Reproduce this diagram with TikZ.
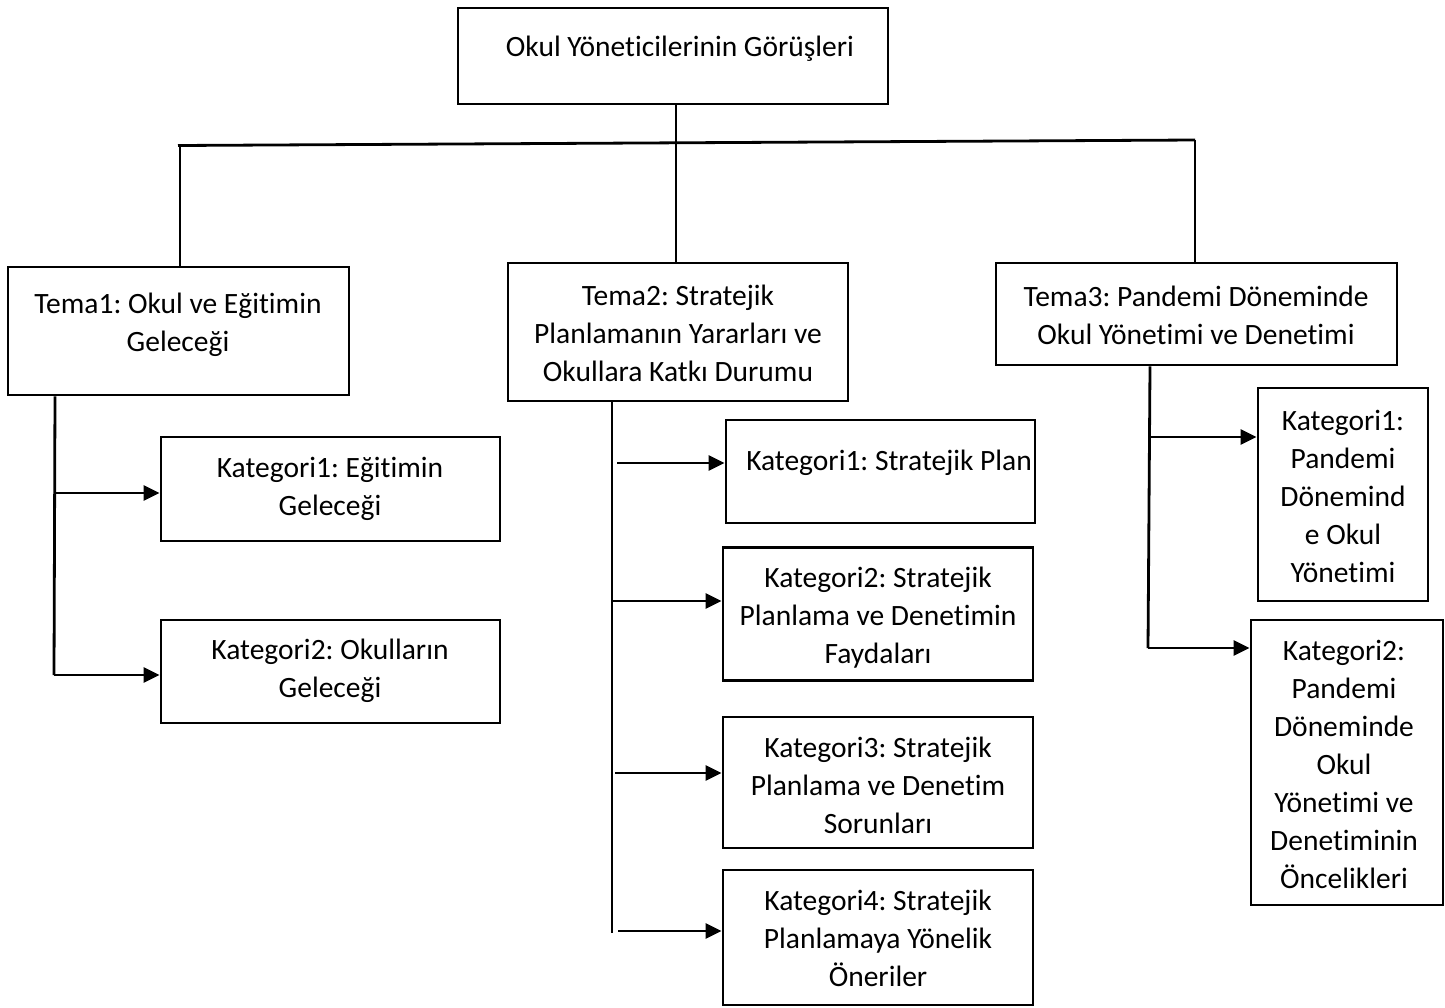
\documentclass[tikz,border=0pt]{standalone}
\usepackage{fontspec}
\setmainfont{Carlito}[Ligatures=NoCommon]
\usetikzlibrary{arrows.meta}
\newcommand\tfont{\fontsize{29.5}{38}\selectfont\frenchspacing}
\tikzset{
  box/.style={draw, line width=2.8pt, rectangle, inner sep=0pt},
  txt/.style={anchor=north, yshift=26.6pt, inner sep=0pt, align=center, font=\tfont},
  ln/.style={line width=2.8pt},
  arr/.style={line width=2.8pt, -{Triangle[length=16pt,width=15pt]}}
}
\begin{document}
\begin{tikzpicture}[x=1pt,y=-1pt]
\useasboundingbox (0,0) rectangle (1445,1007);
% boxes
\node[box, minimum width=430pt, minimum height=96pt] (top) at (673,56) {};
\node[box, minimum width=341pt, minimum height=128pt] (T1) at (178.5,331) {};
\node[box, minimum width=340pt, minimum height=138pt] (T2) at (678,332) {};
\node[box, minimum width=401pt, minimum height=102pt] (T3) at (1196.5,314) {};
\node[box, minimum width=339pt, minimum height=104pt] (A1) at (330.5,489) {};
\node[box, minimum width=339pt, minimum height=103pt] (A2) at (330.5,671.5) {};
\node[box, minimum width=309pt, minimum height=103pt] (B1) at (880.5,471.5) {};
\node[box, minimum width=310pt, minimum height=133pt] (B2) at (878,614) {};
\node[box, minimum width=310pt, minimum height=131pt] (B3) at (878,782.5) {};
\node[box, minimum width=310pt, minimum height=135pt] (B4) at (878,937.5) {};
\node[box, minimum width=170pt, minimum height=213pt] (C1) at (1343,494.5) {};
\node[box, minimum width=192pt, minimum height=285pt] (C2) at (1347,762.5) {};
% texts
\node[txt] (ttop) at (680,56) {\strut Okul Yöneticilerinin Görüşleri};
\node[txt] (tT1) at (178,313) {\strut Tema1: Okul ve Eğitimin\\Geleceği};
\node[txt] (tT2) at (678,305) {\strut Tema2: Stratejik\\Planlamanın Yararları ve\\Okullara Katkı Durumu};
\node[txt] (tT3) at (1196,306) {\strut Tema3: Pandemi Döneminde\\Okul Yönetimi ve Denetimi};
\node[txt] (tA1) at (330,477) {\strut Kategori1: Eğitimin\\Geleceği};
\node[txt] (tA2) at (330,659) {\strut Kategori2: Okulların\\Geleceği};
\node[txt] (tB1) at (889,470) {\strut Kategori1: Stratejik Plan};
\node[txt] (tB2) at (878,587) {\strut Kategori2: Stratejik\\Planlama ve Denetimin\\Faydaları};
\node[txt] (tB3) at (878,757) {\strut Kategori3: Stratejik\\Planlama ve Denetim\\Sorunları};
\node[txt] (tB4) at (878,910) {\strut Kategori4: Stratejik\\Planlamaya Yönelik\\Öneriler};
\node[txt] (tC1) at (1343,430) {\strut Kategori1:\\Pandemi\\Dönemind\\e Okul\\Yönetimi};
\node[txt] (tC2) at (1344,660) {\strut Kategori2:\\Pandemi\\Döneminde\\Okul\\Yönetimi ve\\Denetiminin\\Öncelikleri};
% junctions
\coordinate (jl) at (178,145.5);
\coordinate (jr) at (1195,140);
\coordinate (jm) at (676,143);
\draw[ln] (jl) -- (jr);
\draw[ln] (top.south -| jm) -- (T2.north -| jm);
\draw[ln] ([xshift=2pt]jl) -- ([xshift=2pt]jl |- T1.north);
\draw[ln] (jr) -- (jr |- T3.north);
% Tema1 branch
\coordinate (k1) at (54,493);
\coordinate (k2) at (54,675);
\draw[ln] (T1.south -| 55,0) -- (k2);
\draw[arr] (k1) -- (k1 -| A1.west);
\draw[arr] (k2) -- (k2 -| A2.west);
% Tema2 branch
\coordinate (m1) at (617,463);
\coordinate (m2) at (613,601);
\coordinate (m3) at (615,773);
\coordinate (m4) at (618,931);
\draw[ln] (T2.south -| 612,0) -- (612,933);
\draw[arr] (m1) -- (m1 -| B1.west);
\draw[arr] (m2) -- (m2 -| B2.west);
\draw[arr] (m3) -- (m3 -| B3.west);
\draw[arr] (m4) -- (m4 -| B4.west);
% Tema3 branch
\coordinate (n1) at (1151,437);
\coordinate (n2) at (1148,648);
\draw[ln] (T3.south -| 1150,0) -- (n2);
\draw[arr] (n1) -- (n1 -| C1.west);
\draw[arr] (n2) -- (n2 -| C2.west);
\end{tikzpicture}
\end{document}
